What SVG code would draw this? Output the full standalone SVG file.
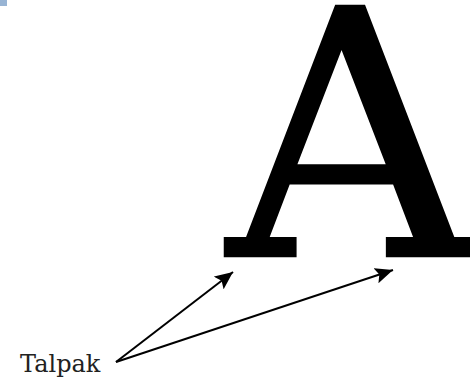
<svg xmlns="http://www.w3.org/2000/svg" width="470" height="379" viewBox="0 0 470 379">
<style>
.big{font-family:"DejaVu Serif",serif;font-weight:normal;font-size:343px;fill:#000;stroke:#000;stroke-width:2.5;stroke-linejoin:miter}
.lbl{font-family:"DejaVu Serif",serif;font-size:24px;fill:#222}
.arr{stroke:#000;stroke-width:2;fill:none;marker-end:url(#ah)}
</style>
<defs>
<marker id="ah" viewBox="0 0 10 10" refX="10" refY="5" markerWidth="9" markerHeight="8" markerUnits="strokeWidth" orient="auto" preserveAspectRatio="none">
<path d="M0,0 L10,5 L0,10 L2,5 Z" fill="#000"/>
</marker>
</defs>
<rect x="0" y="0" width="7" height="6" fill="#98b4d4"/>
<g id="letter"><text class="big" x="227" y="256">A</text></g>
<g id="label"><text class="lbl" x="20" y="372">Talpak</text></g>
<g id="connectors">
<line class="arr" x1="116" y1="362" x2="233" y2="272"/>
<line class="arr" x1="116" y1="362" x2="393" y2="270"/>
</g>
</svg>
